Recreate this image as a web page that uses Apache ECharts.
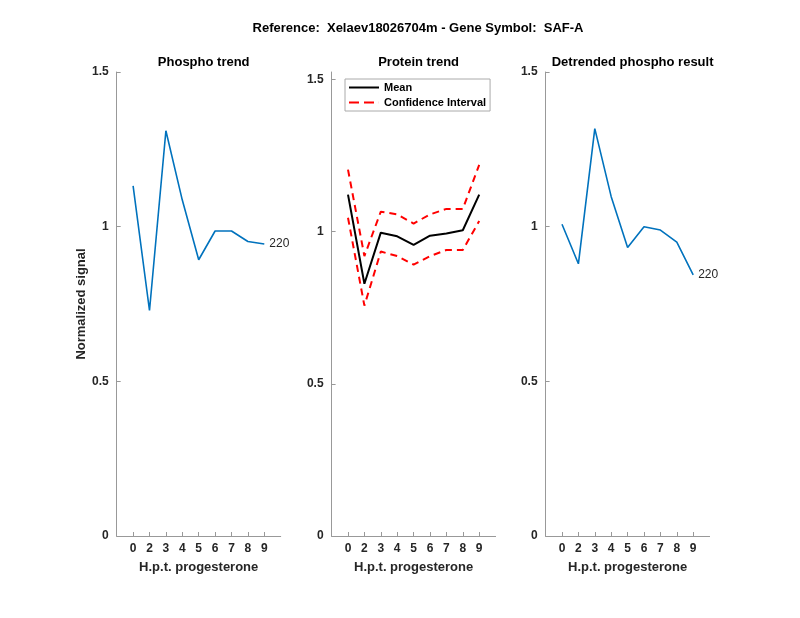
<!DOCTYPE html>
<html>
<head>
<meta charset="utf-8">
<script src="https://cdn.jsdelivr.net/npm/echarts@6/dist/echarts.min.js"></script>
<style>html,body{margin:0;padding:0;background:#fff;}#c{width:800px;height:618px;}</style>
</head>
<body>
<div id="c"></div>
<script>
// ---- data ----
var xPositions = [1, 2, 3, 4, 5, 6, 7, 8, 9];
var xTickLabels = ['0', '2', '3', '4', '5', '6', '7', '8', '9'];
var yTicks = [0, 0.5, 1, 1.5];
var yTickLabels = ['0', '0.5', '1', '1.5'];
var phosphoTrend = [1.132, 0.729, 1.310, 1.086, 0.893, 0.986, 0.986, 0.952, 0.944];
var proteinMean = [1.122, 0.829, 0.997, 0.985, 0.957, 0.987, 0.994, 1.005, 1.122];
var proteinUpper = [1.204, 0.920, 1.066, 1.057, 1.027, 1.057, 1.075, 1.075, 1.220];
var proteinLower = [1.046, 0.757, 0.935, 0.920, 0.892, 0.920, 0.940, 0.940, 1.035];
var detrendedPhospho = [1.008, 0.880, 1.317, 1.097, 0.933, 1.000, 0.989, 0.950, 0.844];
var endLabelText = '220';
var mainTitle = 'Reference:  Xelaev18026704m - Gene Symbol:  SAF-A';
var panelTitles = ['Phospho trend', 'Protein trend', 'Detrended phospho result'];
var legendNames = ['Mean', 'Confidence Interval'];
var xAxisName = 'H.p.t. progesterone';
var yAxisName = 'Normalized signal';

function pairs(vals) { return vals.map(function (v, i) { return [xPositions[i], v]; }); }

var FONT = '"Liberation Sans", Arial, Helvetica, sans-serif';
var AXC = '#999999';
var TXC = '#262626';

var grids = [
  { left: 116.7, top: 72, width: 164, height: 464 },
  { left: 331.6, top: 72, width: 164, height: 464 },
  { left: 545.6, top: 72, width: 164, height: 464 }
];
var yMax = [1.5, 1.525, 1.5];

function mkX(i) {
  return {
    type: 'value', gridIndex: i, min: 0, max: 10, interval: 1,
    name: xAxisName, nameLocation: 'middle', nameGap: 25,
    nameTextStyle: { color: TXC, fontFamily: FONT, fontWeight: 'bold', fontSize: 13 },
    axisLine: { show: true, onZero: false, lineStyle: { color: AXC, width: 1 } },
    axisTick: { show: true, inside: true, length: 4, lineStyle: { color: AXC }, customValues: xPositions },
    axisLabel: {
      show: true, margin: 7, color: TXC, fontFamily: FONT, fontWeight: 'bold', fontSize: 12,
      customValues: xPositions,
      formatter: function (v) { var k = xPositions.indexOf(Math.round(v)); return k >= 0 ? xTickLabels[k] : ''; }
    },
    splitLine: { show: false }
  };
}
function mkY(i) {
  var o = {
    type: 'value', gridIndex: i, min: 0, max: yMax[i], interval: 0.5,
    axisLine: { show: true, lineStyle: { color: AXC, width: 1 } },
    axisTick: { show: true, inside: true, length: 4, lineStyle: { color: AXC }, customValues: yTicks },
    axisLabel: {
      show: true, margin: 8, color: TXC, fontFamily: FONT, fontWeight: 'bold', fontSize: 12,
      customValues: yTicks,
      formatter: function (v) { var k = yTicks.indexOf(v); return k >= 0 ? yTickLabels[k] : ''; }
    },
    splitLine: { show: false }
  };
  if (i === 0) {
    o.name = yAxisName; o.nameLocation = 'middle'; o.nameGap = 21; o.nameRotate = 90;
    o.nameTextStyle = { color: TXC, fontFamily: FONT, fontWeight: 'bold', fontSize: 13 };
  }
  return o;
}

var blue = '#0072BD';
function endLbl() {
  return { show: true, formatter: endLabelText, color: TXC, fontFamily: FONT, fontSize: 12, distance: 5 };
}
function ttl(text, x, y) {
  return { text: text, left: x, top: y, textAlign: 'center',
    textStyle: { fontFamily: FONT, fontWeight: 'bold', fontSize: 13, color: '#000' } };
}

var option = {
  animation: false,
  backgroundColor: '#ffffff',
  title: [
    ttl(mainTitle, 413, 16.5),
    ttl(panelTitles[0], 198.7, 51),
    ttl(panelTitles[1], 413.6, 51),
    ttl(panelTitles[2], 627.6, 51)
  ],
  legend: {
    left: 345, top: 79, orient: 'vertical', itemGap: 4, itemWidth: 30, itemHeight: 2,
    padding: [3, 4, 3, 4], symbolKeepAspect: false,
    borderColor: '#aaaaaa', borderWidth: 1, backgroundColor: '#fff',
    data: [
      { name: legendNames[0], icon: 'path://M0,0H30V2H0Z' },
      { name: legendNames[1], icon: 'path://M0,0H10V2H0Z M15,0H25V2H15Z M29.9,0H30V2H29.9Z' }
    ],
    textStyle: { fontFamily: FONT, fontWeight: 'bold', fontSize: 11, color: '#000' }
  },
  grid: grids,
  xAxis: [mkX(0), mkX(1), mkX(2)],
  yAxis: [mkY(0), mkY(1), mkY(2)],
  series: [
    { type: 'line', name: 'Phospho', xAxisIndex: 0, yAxisIndex: 0, data: pairs(phosphoTrend),
      symbol: 'none', lineStyle: { color: blue, width: 1.6 }, itemStyle: { color: blue }, endLabel: endLbl() },
    { type: 'line', name: legendNames[0], xAxisIndex: 1, yAxisIndex: 1, data: pairs(proteinMean),
      symbol: 'none', lineStyle: { color: '#000', width: 2 }, itemStyle: { color: '#000' } },
    { type: 'line', name: legendNames[1], xAxisIndex: 1, yAxisIndex: 1, data: pairs(proteinUpper),
      symbol: 'none', lineStyle: { color: '#ff0000', width: 2, type: [7, 5] }, itemStyle: { color: '#ff0000' } },
    { type: 'line', name: legendNames[1], xAxisIndex: 1, yAxisIndex: 1, data: pairs(proteinLower),
      symbol: 'none', lineStyle: { color: '#ff0000', width: 2, type: [7, 5] }, itemStyle: { color: '#ff0000' } },
    { type: 'line', name: 'Detrended', xAxisIndex: 2, yAxisIndex: 2, data: pairs(detrendedPhospho),
      symbol: 'none', lineStyle: { color: blue, width: 1.6 }, itemStyle: { color: blue }, endLabel: endLbl() }
  ]
};
var chart = echarts.init(document.getElementById('c'), null, { renderer: 'canvas' });
chart.setOption(option);
</script>
</body>
</html>
